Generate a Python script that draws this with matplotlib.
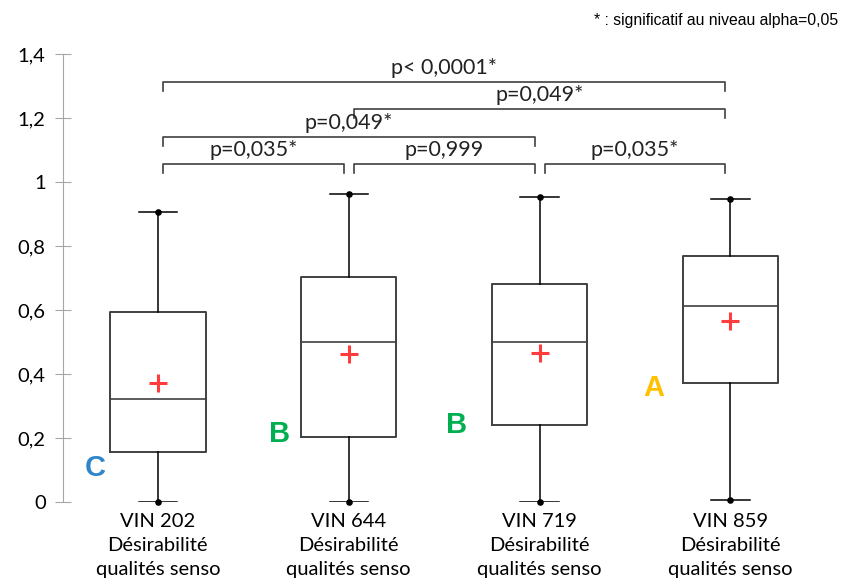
import matplotlib.pyplot as plt

# ----- data -----
labels = ["VIN 202\nDésirabilité\nqualités senso",
          "VIN 644\nDésirabilité\nqualités senso",
          "VIN 719\nDésirabilité\nqualités senso",
          "VIN 859\nDésirabilité\nqualités senso"]
whisker_low = [0.0, 0.0, 0.0, 0.006]
q1 = [0.156, 0.203, 0.241, 0.372]
median = [0.322, 0.500, 0.500, 0.612]
q3 = [0.594, 0.703, 0.681, 0.769]
whisker_high = [0.906, 0.963, 0.953, 0.947]
means = [0.372, 0.462, 0.466, 0.566]

groups = ["C", "B", "B", "A"]
group_colors = ["#2E86C8", "#00B050", "#00B050", "#FFC000"]
group_x = [0.67, 1.64, 2.565, 3.597]
group_y = [0.106, 0.2125, 0.24, 0.356]

# pairs (box i, box j), bracket height, p-value text
pairs = [(1, 4), (2, 4), (1, 3), (1, 2), (2, 3), (3, 4)]
pair_heights = [1.3125, 1.228, 1.14, 1.056, 1.056, 1.056]
pair_texts = ["p< 0,0001*", "p=0,049*", "p=0,049*", "p=0,035*", "p=0,999", "p=0,035*"]

# ----- figure -----
fig = plt.figure(figsize=(8.41, 5.81), dpi=100)
ax = fig.add_axes([0.0749, 0.136, 0.9071, 0.771])

positions = list(range(1, len(labels) + 1))
stats = []
for i in range(len(labels)):
    stats.append(dict(whislo=whisker_low[i], q1=q1[i], med=median[i],
                      q3=q3[i], whishi=whisker_high[i], mean=means[i],
                      fliers=[], label=labels[i]))

ax.bxp(stats, positions=positions, widths=0.5, showmeans=True,
       boxprops=dict(color="#404040", linewidth=1.4),
       medianprops=dict(color="#404040", linewidth=1.2),
       whiskerprops=dict(color="black", linewidth=1.1),
       capprops=dict(color="black", linewidth=1.1),
       meanprops=dict(marker="+", markeredgecolor="#FF3B3B",
                      markersize=13, markeredgewidth=2.2),
       capwidths=0.2)

# dots at whisker ends
ax.scatter(positions, whisker_low, s=14, color="black", zorder=4, clip_on=False)
ax.scatter(positions, whisker_high, s=14, color="black", zorder=4, clip_on=False)

# group letters
for x, g, c, y in zip(group_x, groups, group_colors, group_y):
    ax.text(x, y, g, color=c, fontsize=21, fontweight="bold",
            family="Liberation Sans", ha="center", va="center")

# significance brackets
drop = 0.028
for (a, b), h, t in zip(pairs, pair_heights, pair_texts):
    x0 = a + 0.026
    x1 = b - 0.026
    ax.plot([x0, x0, x1, x1], [h - drop, h, h, h - drop], color="#404040",
            linewidth=1.2, clip_on=False)
    ax.text((x0 + x1) / 2, h + 0.013, t, ha="center", va="bottom",
            fontsize=15.5, family="Lato", color="#222222")

ax.set_xlim(0.503, 4.5)
ax.set_ylim(0, 1.4)
ax.set_yticks([0, 0.2, 0.4, 0.6, 0.8, 1.0, 1.2, 1.4])
ax.set_yticklabels(["0", "0,2", "0,4", "0,6", "0,8", "1", "1,2", "1,4"],
                   family="Lato", fontsize=14.5)
ax.set_xticks(positions)
ax.set_xticklabels(labels, family="Lato", fontsize=14.5, linespacing=1.5)

for s in ["top", "right", "bottom"]:
    ax.spines[s].set_visible(False)
ax.spines["left"].set_color("#A6A6A6")
ax.tick_params(axis="y", direction="inout", length=11, color="#A6A6A6", pad=7)
ax.tick_params(axis="x", length=0, pad=8)

fig.text(0.997, 0.965, "* : significatif au niveau alpha=0,05", ha="right",
         va="center", fontsize=11.3, family="Liberation Sans")

fig.savefig("out.png", dpi=100)
